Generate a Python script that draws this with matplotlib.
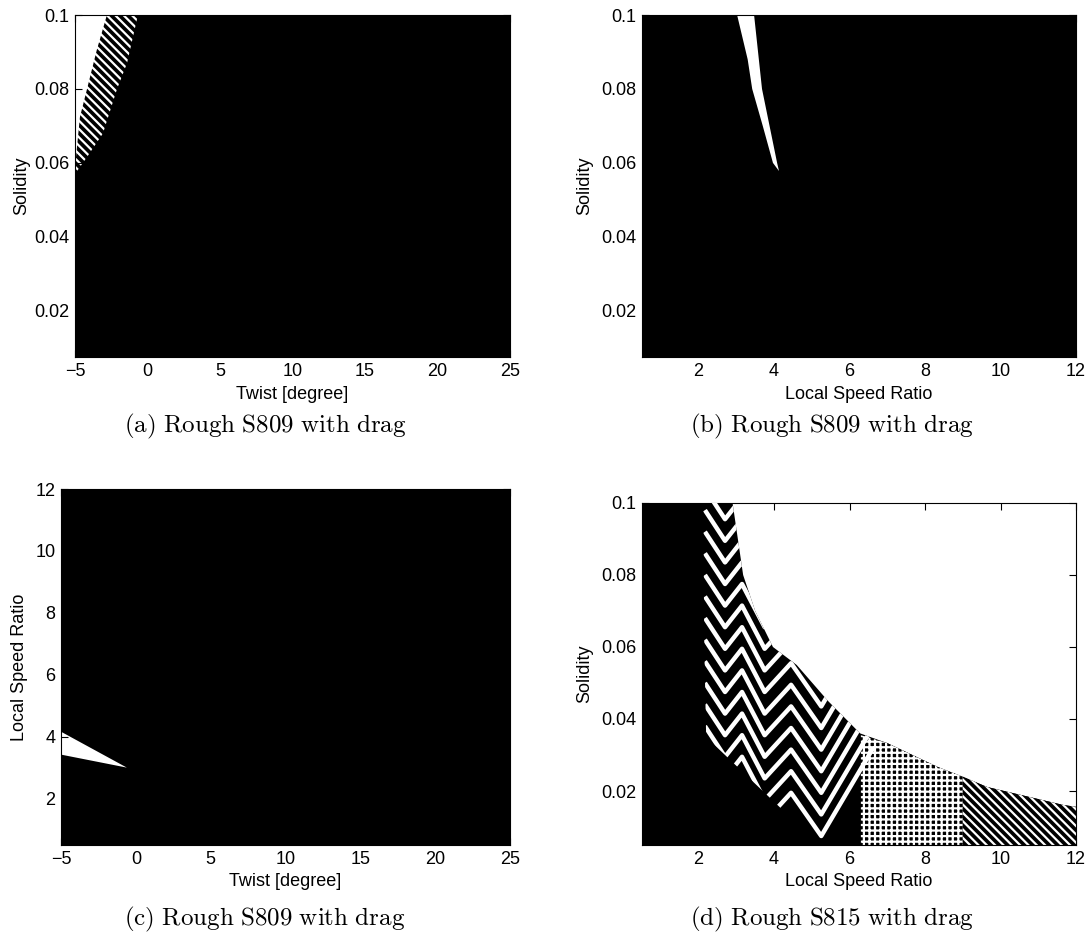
import matplotlib
matplotlib.use("Agg")
import matplotlib.pyplot as plt
from matplotlib.patches import Polygon

plt.rcParams["font.family"] = ["Liberation Sans", "DejaVu Sans"]
plt.rcParams["mathtext.fontset"] = "cm"
plt.rcParams["hatch.linewidth"] = 1.6

# ---------------- data: feasible (white) regions of the design space ----------------
# (a) twist vs solidity: solid feasible region and its striped fringe
a_solid_twist = [-5.0, -2.8, -3.5, -4.17, -4.66, -5.0]
a_solid_sol = [0.1, 0.1, 0.0905, 0.08, 0.0724, 0.0588]
a_fringe_twist = [-5.0, -4.17, -3.07, -2.1, -1.41, -0.66, -5.0]
a_fringe_sol = [0.057, 0.0616, 0.068, 0.08, 0.087, 0.1, 0.1]

# (b) local speed ratio vs solidity: narrow feasible sliver
b_lsr = [3.02, 3.3, 3.42, 3.7, 3.97, 4.13, 4.08, 3.68, 3.47]
b_sol = [0.1, 0.088, 0.08, 0.07, 0.06, 0.0578, 0.06, 0.08, 0.1]

# (c) twist vs local speed ratio: small feasible wedge
c_twist = [-5.0, -0.6, -5.0]
c_lsr = [4.16, 3.0, 3.42]

# (d) S815: fully infeasible block at low speed ratio
d_block_lsr = [0.5, 0.5, 2.12, 2.15, 2.2, 2.2]
d_block_sol = [0.005, 0.1, 0.1, 0.06, 0.035, 0.005]
# mostly infeasible zone below the chevrons
d_dark_lsr = [2.1, 2.1, 2.2, 3.0, 3.7, 4.5, 5.0, 5.4]
d_dark_sol = [0.005, 0.036, 0.035, 0.027, 0.02, 0.012, 0.008, 0.005]
# upper envelope of the infeasible fringe
d_env_lsr = [2.12, 2.9, 3.18, 3.5, 3.97, 4.6, 5.43, 6.28, 7.0, 8.33, 9.65, 11.67, 12.0]
d_env_sol = [0.1, 0.1, 0.08, 0.07, 0.06, 0.055, 0.045, 0.036, 0.0333, 0.0267, 0.0211,
             0.0161, 0.0156]
# high speed ratio tail: gridded part and striped part
d_grid_lsr = [6.3, 6.3, 7.0, 8.33, 9.0, 9.0]
d_grid_sol = [0.005, 0.0355, 0.0333, 0.0267, 0.024, 0.005]
d_stripe_lsr = [9.0, 9.0, 9.65, 11.67, 12.0, 12.0]
d_stripe_sol = [0.005, 0.024, 0.0211, 0.0161, 0.0156, 0.005]
# feasible zigzag bands inside the fringe (speed ratio nodes, solidity per band)
d_band_lsr = [2.2, 2.7, 3.15, 3.75, 4.45, 5.25, 6.6]
d_band_sol = [
    [0.0255, 0.0175, 0.0235, 0.0115, 0.0195, 0.0075, 0.0315],
    [0.0315, 0.0235, 0.0295, 0.0175, 0.0255, 0.0135, 0.0375],
    [0.0375, 0.0295, 0.0355, 0.0235, 0.0315, 0.0195, 0.0435],
    [0.0435, 0.0355, 0.0415, 0.0295, 0.0375, 0.0255, 0.0495],
    [0.0495, 0.0415, 0.0475, 0.0355, 0.0435, 0.0315, 0.0555],
    [0.0555, 0.0475, 0.0535, 0.0415, 0.0495, 0.0375, 0.0615],
    [0.0615, 0.0535, 0.0595, 0.0475, 0.0555, 0.0435, 0.0675],
    [0.0675, 0.0595, 0.0655, 0.0535, 0.0615, 0.0495, 0.0735],
    [0.0735, 0.0655, 0.0715, 0.0595, 0.0675, 0.0555, 0.0795],
    [0.0795, 0.0715, 0.0775, 0.0655, 0.0735, 0.0615, 0.0855],
    [0.0855, 0.0775, 0.0835, 0.0715, 0.0795, 0.0675, 0.0915],
    [0.0915, 0.0835, 0.0895, 0.0775, 0.0855, 0.0735, 0.0975],
    [0.0975, 0.0895, 0.0955, 0.0835, 0.0915, 0.0795, 0.1035],
    [0.1035, 0.0955, 0.1015, 0.0895, 0.0975, 0.0855, 0.1095],
]

twist_ticks = [-5, 0, 5, 10, 15, 20, 25]
twist_labels = ["\u22125", "0", "5", "10", "15", "20", "25"]
sol_ticks = [0.02, 0.04, 0.06, 0.08, 0.1]
sol_labels = ["0.02", "0.04", "0.06", "0.08", "0.1"]
lsr_ticks = [2, 4, 6, 8, 10, 12]
lsr_labels = ["2", "4", "6", "8", "10", "12"]

captions = ["(a) Rough S809 with drag", "(b) Rough S809 with drag",
            "(c) Rough S809 with drag", "(d) Rough S815 with drag"]

# ---------------- figure ----------------
W, H = 1092, 934
fig = plt.figure(figsize=(W / 100, H / 100), dpi=100)
FS = 13


def add_axes_px(left, right, top, bottom, face):
    ax = fig.add_axes([left / W, 1 - bottom / H, (right - left) / W, (bottom - top) / H])
    ax.set_facecolor(face)
    ax.tick_params(direction="in", length=5, width=0.8, top=True, right=True,
                   labelsize=FS, pad=4, color="black")
    for s in ax.spines.values():
        s.set_linewidth(0.8)
    return ax


def label_px(x, y, s, rot=0, size=FS, **kw):
    fig.text(x / W, 1 - y / H, s, rotation=rot, ha="center", va="center", fontsize=size, **kw)


def caption_px(x, y, s):
    tex = r"$\mathrm{" + s.replace(" ", r"\ ") + "}$"
    fig.text(x / W, 1 - y / H, tex, ha="center", va="center", fontsize=18)


def region(ax, xs, ys, face, hatch=None, z=1):
    patch = Polygon(list(zip(xs, ys)), closed=True, facecolor=face,
                    edgecolor="white" if hatch else "none", linewidth=0,
                    hatch=hatch, zorder=z)
    ax.add_patch(patch)
    return patch


# (a)
ax = add_axes_px(75, 510, 15, 357, "black")
region(ax, a_fringe_twist, a_fringe_sol, "black", hatch="\\\\\\\\")
region(ax, a_solid_twist, a_solid_sol, "white")
ax.set_xlim(-5, 25)
ax.set_ylim(0.0075, 0.1)
ax.set_xticks(twist_ticks, twist_labels)
ax.set_yticks(sol_ticks, sol_labels)
label_px(292, 394, "Twist [degree]")
label_px(22, 186, "Solidity", rot=90)
caption_px(265, 426, captions[0])

# (b)
ax = add_axes_px(642, 1076, 15, 357, "black")
region(ax, b_lsr, b_sol, "white")
ax.set_xlim(0.5, 12)
ax.set_ylim(0.0075, 0.1)
ax.set_xticks(lsr_ticks, lsr_labels)
ax.set_yticks(sol_ticks, sol_labels)
label_px(859, 394, "Local Speed Ratio")
label_px(585, 186, "Solidity", rot=90)
caption_px(832, 426, captions[1])

# (c)
ax = add_axes_px(61, 510, 489, 845, "black")
region(ax, c_twist, c_lsr, "white")
ax.set_xlim(-5, 25)
ax.set_ylim(0.5, 12)
ax.set_xticks(twist_ticks, twist_labels)
ax.set_yticks(lsr_ticks, lsr_labels)
label_px(285, 882, "Twist [degree]")
label_px(20, 667, "Local Speed Ratio", rot=90)
caption_px(265, 919, captions[2])

# (d)
ax = add_axes_px(642, 1076, 503, 845, "white")
fringe = region(ax, d_env_lsr + [12.0, 0.5, 0.5], d_env_sol + [0.005, 0.005, 0.1],
                "black", z=1)
region(ax, d_grid_lsr, d_grid_sol, "black", hatch="+++", z=2)
region(ax, d_stripe_lsr, d_stripe_sol, "black", hatch="\\\\\\\\", z=2)
for ys in d_band_sol:
    line, = ax.plot(d_band_lsr, ys, color="white", linewidth=3.2, zorder=3)
    line.set_clip_path(fringe)
region(ax, d_dark_lsr, d_dark_sol, "black", z=4)
region(ax, d_block_lsr, d_block_sol, "black", z=5)
ax.set_xlim(0.5, 12)
ax.set_ylim(0.005, 0.1)
ax.set_xticks(lsr_ticks, lsr_labels)
ax.set_yticks(sol_ticks, sol_labels)
label_px(859, 882, "Local Speed Ratio")
label_px(585, 674, "Solidity", rot=90)
caption_px(832, 919, captions[3])

fig.savefig("out.png", dpi=100)
